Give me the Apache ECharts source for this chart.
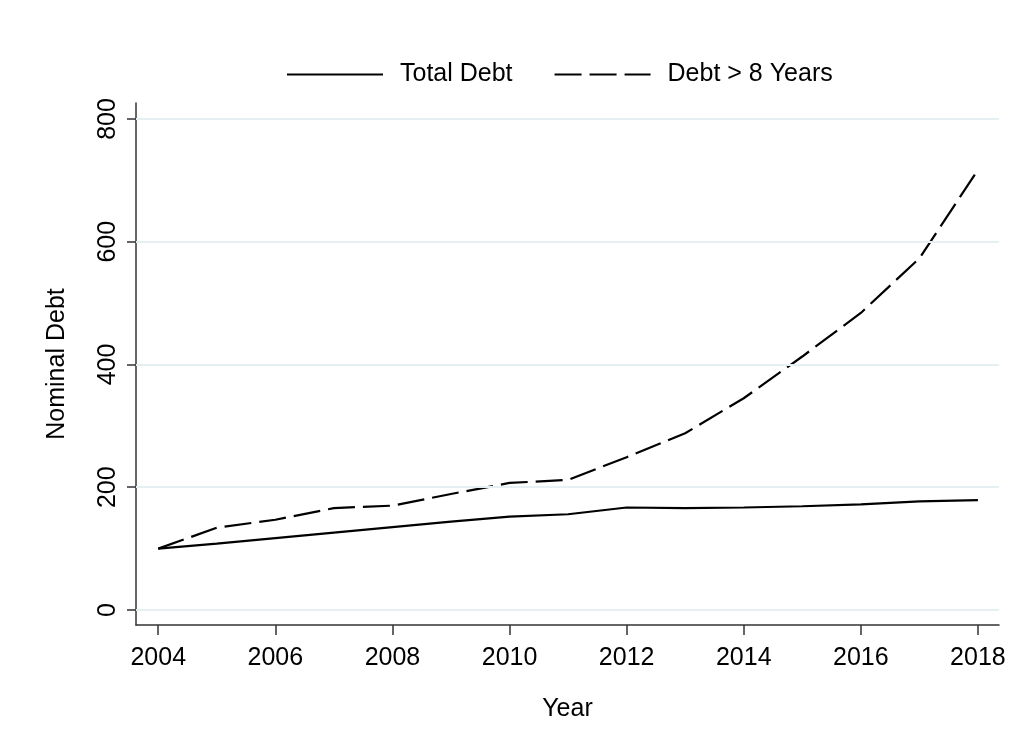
<!DOCTYPE html>
<html>
<head>
<meta charset="utf-8">
<script src="https://cdn.jsdelivr.net/npm/echarts@6/dist/echarts.min.js"></script>
<style>
html,body{margin:0;padding:0;background:#fff;}
#chart{width:1012px;height:736px;}
</style>
</head>
<body>
<div id="chart"></div>
<script>
const years = [2004,2005,2006,2007,2008,2009,2010,2011,2012,2013,2014,2015,2016,2017,2018];
const totalDebt = [100,108,117,126,135,144,152,156,167,166,167,169,172,177,179];
const debtOver8 = [100,134,147,166,170,189,207,212,249,288,345,413,484,573,717];
const xTicks = [2004,2006,2008,2010,2012,2014,2016,2018];
const yTicks = [0,200,400,600,800];
const seriesNames = ['Total Debt','Debt > 8 Years'];

const FONT = "'Liberation Sans', Arial, sans-serif";
const chart = echarts.init(document.getElementById('chart'), null, {renderer:'canvas'});

const pair = (xs, ys) => xs.map((x,i)=>[x, ys[i]]);

// legend sample icons (solid and dashed line strokes)
const solidIcon = 'path://M0,0h96v2.2h-96z';
const dashedIcon = 'path://M0,0h27v2.2h-27z M35,0h27v2.2h-27z M70,0h26v2.2h-26z';

chart.setOption({
  animation:false,
  backgroundColor:'#ffffff',
  textStyle:{fontFamily:FONT},
  grid:{left:136,right:13,top:103,bottom:111,containLabel:false},
  legend:{
    left:282, top:57, padding:5,
    itemWidth:96, itemHeight:2.2, itemGap:42,
    data:[{name:seriesNames[0],icon:solidIcon},{name:seriesNames[1],icon:dashedIcon}],
    itemStyle:{color:'#000',borderWidth:0},
    textStyle:{fontFamily:FONT,fontSize:25,color:'#000',padding:[0,0,0,12]}
  },
  xAxis:{
    type:'value', min:2003.62, max:2018.36,
    name:'Year', nameLocation:'middle', nameGap:72,
    nameTextStyle:{fontFamily:FONT,fontSize:25,color:'#000'},
    axisLine:{show:true,onZero:false,lineStyle:{color:'#333',width:1.5}},
    axisTick:{show:true,length:10,customValues:xTicks,lineStyle:{color:'#333',width:1.5}},
    axisLabel:{customValues:xTicks,fontFamily:FONT,fontSize:25,color:'#000',margin:21,formatter:v=>String(v)},
    splitLine:{show:false}
  },
  yAxis:{
    type:'value', min:-24.5, max:826.1,
    name:'Nominal Debt', nameLocation:'middle', nameGap:66, nameRotate:90,
    nameTextStyle:{fontFamily:FONT,fontSize:25,color:'#000'},
    axisLine:{show:true,onZero:false,lineStyle:{color:'#333',width:1.5}},
    axisTick:{show:true,length:9,customValues:yTicks,lineStyle:{color:'#333',width:1.5}},
    axisLabel:{customValues:yTicks,rotate:90,fontFamily:FONT,fontSize:25,color:'#000',margin:15,formatter:v=>String(v)},
    splitLine:{show:false}
  },
  series:[
    {
      name:'grid', type:'line', data:[], z:1, silent:true,
      markLine:{
        silent:true, symbol:['none','none'], label:{show:false},
        lineStyle:{color:'#e6eff1',width:2,type:'solid'},
        data:yTicks.map(v=>({yAxis:v}))
      }
    },
    {
      name:seriesNames[0], type:'line', data:pair(years,totalDebt), z:3,
      symbol:'none', showSymbol:false,
      lineStyle:{color:'#000',width:2.2,type:'solid'},
      itemStyle:{color:'#000'}
    },
    {
      name:seriesNames[1], type:'line', data:pair(years,debtOver8), z:3,
      symbol:'none', showSymbol:false,
      lineStyle:{color:'#000',width:2.2,type:[27,8]},
      itemStyle:{color:'#000'}
    }
  ]
});
</script>
</body>
</html>
